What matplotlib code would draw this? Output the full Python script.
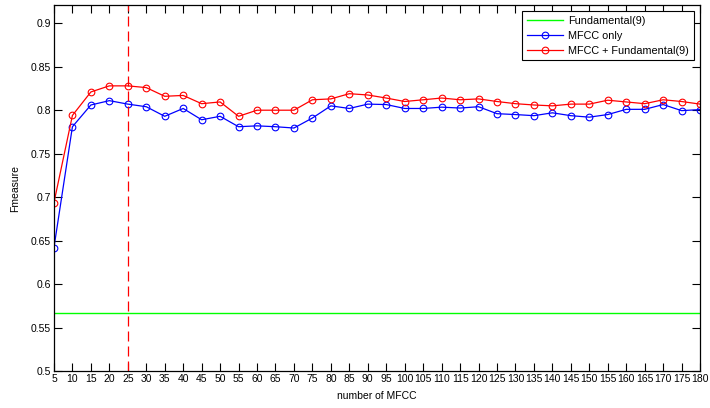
import matplotlib
matplotlib.use("Agg")
import matplotlib.pyplot as plt
import numpy as np

n_mfcc = list(range(5, 185, 5))
mfcc_only = [0.642, 0.781, 0.806, 0.811, 0.807, 0.804, 0.793, 0.802, 0.789, 0.793,
             0.781, 0.782, 0.781, 0.7795, 0.791, 0.805, 0.802, 0.807, 0.8065, 0.802,
             0.802, 0.8035, 0.8025, 0.804, 0.796, 0.795, 0.7937, 0.797, 0.7937, 0.792,
             0.795, 0.801, 0.801, 0.8065, 0.7995, 0.8007]
mfcc_fund = [0.6937, 0.794, 0.821, 0.828, 0.828, 0.826, 0.816, 0.817, 0.8075, 0.8095,
             0.793, 0.800, 0.800, 0.800, 0.812, 0.813, 0.819, 0.8175, 0.814, 0.810,
             0.812, 0.814, 0.812, 0.813, 0.810, 0.8075, 0.806, 0.805, 0.807, 0.807,
             0.8115, 0.8095, 0.8075, 0.812, 0.810, 0.807]
fundamental = 0.567
best_n = 25
yticks = [0.5, 0.55, 0.6, 0.65, 0.7, 0.75, 0.8, 0.85, 0.9]

plt.rcParams['font.family'] = ['Liberation Sans', 'DejaVu Sans']
fig = plt.figure(figsize=(7.10, 4.08), dpi=100)
ax = fig.add_axes([0.076, 0.0907, 0.910, 0.897])

ax.axhline(fundamental, color='#00ff00', lw=1.0, label='Fundamental(9)')
ax.plot(n_mfcc, mfcc_only, '-o', color='#0000ff', lw=0.9, ms=4.8,
        mfc='none', mew=0.8, label='MFCC only')
ax.plot(n_mfcc, mfcc_fund, '-o', color='#ff0000', lw=0.9, ms=4.8,
        mfc='none', mew=0.8, label='MFCC + Fundamental(9)')
ax.axvline(best_n, color='#ff0000', lw=0.9, ls=(0, (8, 4)))

ax.set_xlim(5, 180)
ax.set_ylim(0.5, 0.921)
ax.set_xticks(n_mfcc)
ax.set_xticklabels([str(v) for v in n_mfcc])
ax.set_yticks(yticks)
ax.set_yticklabels([f"{v:g}" for v in yticks])
ax.tick_params(direction='in', length=5.5, width=0.8, labelsize=7.5,
               top=True, right=True, pad=2)
for s in ax.spines.values():
    s.set_linewidth(0.9)

ax.set_xlabel('number of MFCC', fontsize=7.5, labelpad=5)
ax.set_ylabel('Fmeasure', fontsize=7.5, labelpad=8)

leg = ax.legend(loc='upper right', fontsize=7.8, fancybox=False, framealpha=1,
                edgecolor='black', handlelength=3.3, borderaxespad=0.55,
                labelspacing=0.45, handletextpad=0.5, borderpad=0.45)
leg.get_frame().set_linewidth(0.8)

fig.savefig('out.png', dpi=100)
